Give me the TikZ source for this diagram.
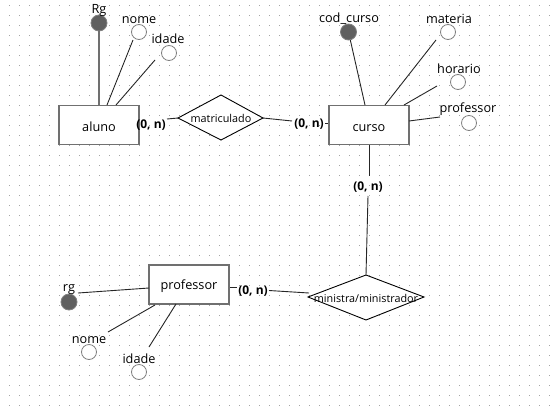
\documentclass[tikz,border=0pt]{standalone}
\usepackage{fontspec}
\setmainfont{Open Sans}
\usetikzlibrary{shapes.geometric}
\definecolor{boxgray}{RGB}{112,112,112}
\definecolor{keyfill}{RGB}{96,96,96}
\definecolor{ringgray}{RGB}{128,128,128}
\definecolor{dotgray}{RGB}{165,165,165}
\begin{document}
\begin{tikzpicture}[x=1pt,y=-1pt,
  entity/.style={draw=boxgray, line width=1.8pt, fill=white, minimum width=80pt, minimum height=39pt, inner sep=0pt},
  lbl/.style={anchor=base, inner sep=0pt, font=\fontsize{12.7}{14}\selectfont},
  rlbl/.style={anchor=base, inner sep=0pt, font=\fontsize{10.8}{12}\selectfont},
  card/.style={anchor=base, inner sep=0pt, font=\bfseries\fontsize{12}{14}\selectfont},
  keyattr/.style={circle, draw=ringgray, fill=keyfill, line width=0.8pt, minimum size=16pt, inner sep=0pt},
  attr/.style={circle, draw=ringgray, fill=white, line width=0.8pt, minimum size=15pt, inner sep=0pt},
  conn/.style={draw=black!85, line width=0.9pt},
  relbox/.style={draw=black, line width=0.9pt, fill=white}]
% background with dotted grid
\fill[white] (0,0) rectangle (559,407);
\useasboundingbox (0,0) rectangle (559,407);
\foreach \gx in {9,19,...,549}{
  \foreach \gy in {5,15,...,405}{
    \fill[dotgray] (\gx-0.5,\gy-0.5) rectangle (\gx+0.5,\gy+0.5);
  }
}
% ---------- aluno ----------
\node[entity] (aluno) at (98.8,125) {};
\node[lbl] (alunot) at (99,131) {aluno};
\node[keyattr] (rg1) at (99,23) {};
\node[lbl] (rg1t) at (99,13) {Rg};
\node[attr] (nome1) at (139,32) {};
\node[lbl] (nome1t) at (139,23) {nome};
\node[attr] (idade1) at (169,53) {};
\node[lbl] (idade1t) at (168,43) {idade};
\coordinate (a1) at (99,105);
\coordinate (a2) at (107,105);
\coordinate (a3) at (116,105);
\coordinate (n1e) at (133,40);
\coordinate (i1e) at (155,60);
\draw[draw=boxgray, line width=1.8pt] (rg1.south) -- (a1);
\draw[conn] (n1e) -- (a2);
\draw[conn] (i1e) -- (a3);
% ---------- matriculado ----------
\coordinate (mL) at (178,118);
\coordinate (mT) at (221,95);
\coordinate (mR) at (263,118);
\coordinate (mB) at (221,140);
\draw[relbox] (mL) -- (mT) -- (mR) -- (mB) -- cycle;
\node[rlbl] (matt) at (221,122) {matriculado};
\node[card] (c1) at (151,128) {(0, n)};
\node[card] (c2) at (309,127) {(0, n)};
\coordinate (c1e) at (167,119);
\coordinate (c2w) at (292,121);
\coordinate (c2e) at (325,123);
\coordinate (cuw) at (329,123);
\draw[conn] (c1e) -- (mL);
\draw[conn] (mR) -- (c2w);
\draw[conn] (c2e) -- (cuw);
% ---------- curso ----------
\node[entity] (curso) at (369,125) {};
\node[lbl] (cursot) at (369,131) {curso};
\node[keyattr] (cod) at (348.5,32) {};
\node[lbl] (codt) at (349,22) {cod\_curso};
\node[attr] (mat) at (448,32) {};
\node[lbl] (matt2) at (449,23) {materia};
\node[attr] (hor) at (458,82) {};
\node[lbl] (hort) at (459,73) {horario};
\node[attr] (prof1) at (469,123) {};
\node[lbl] (prof1t) at (468,112) {professor};
\coordinate (cu1) at (365,105);
\coordinate (cu2) at (385,105);
\coordinate (cu3) at (404,105);
\coordinate (cu4) at (409,121);
\coordinate (matE) at (436,40);
\coordinate (horE) at (437,86);
\coordinate (profE) at (440,117);
\draw[conn] (cod) -- (cu1);
\draw[conn] (matE) -- (cu2);
\draw[conn] (horE) -- (cu3);
\draw[conn] (cu4) -- (profE);
% ---------- ministra ----------
\coordinate (nL) at (308,297);
\coordinate (nT) at (366,275);
\coordinate (nR) at (424,297);
\coordinate (nB) at (366,320);
\draw[relbox] (nL) -- (nT) -- (nR) -- (nB) -- cycle;
\node[rlbl] (mint) at (366,302) {ministra/ministrador};
\node[card] (c3) at (368,190) {(0, n)};
\coordinate (cus) at (369,145);
\coordinate (c3n) at (369,176);
\coordinate (c3s) at (368,196);
\draw[conn] (cus) -- (c3n);
\draw[conn] (c3s) -- (nT);
\node[card] (c4) at (253,294) {(0, n)};
\coordinate (pe) at (229,287);
\coordinate (c4w) at (237,287);
\coordinate (c4e) at (269,290.5);
\coordinate (nLe) at (309,293);
\draw[conn] (pe) -- (c4w);
\draw[conn] (c4e) -- (nLe);
% ---------- professor ----------
\node[entity] (prof) at (189,284.5) {};
\node[lbl] (proft) at (189,289) {professor};
\node[keyattr] (rg2) at (69,302) {};
\node[lbl] (rg2t) at (69,291) {rg};
\node[attr] (nome2) at (89,352) {};
\node[lbl] (nome2t) at (89,343) {nome};
\node[attr] (idade2) at (139,372) {};
\node[lbl] (idade2t) at (139,363) {idade};
\coordinate (rgE) at (78,293);
\coordinate (pw) at (149,288);
\coordinate (nE) at (108,332);
\coordinate (p2) at (155,305);
\coordinate (iE) at (149,347);
\coordinate (p3) at (176,304);
\draw[conn] (rgE) -- (pw);
\draw[conn] (nE) -- (p2);
\draw[conn] (iE) -- (p3);
\end{tikzpicture}
\end{document}
